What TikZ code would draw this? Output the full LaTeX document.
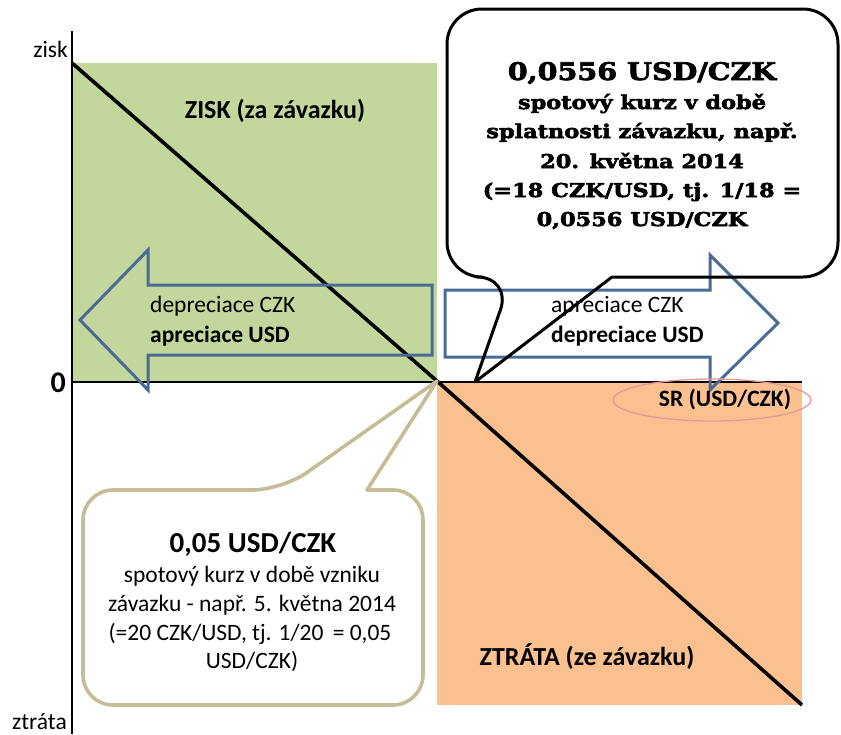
\documentclass[tikz,border=0pt]{standalone}
\usepackage{fontspec}
\setmainfont{Carlito}
\newfontfamily\slab[FakeStretch=1.18, FakeBold=3]{DejaVu Serif}
\usetikzlibrary{shapes.geometric}

\definecolor{gainfill}{HTML}{C3D69B}
\definecolor{lossfill}{HTML}{FAC090}
\definecolor{arrowblue}{HTML}{4A6A98}
\definecolor{tanline}{HTML}{C4BD97}
\definecolor{ringred}{HTML}{E39A9A}

\tikzset{
  txt/.style={inner sep=0pt, anchor=base, font=\fontsize{23.5}{28}\selectfont},
  txtw/.style={txt, anchor=base west},
  txtb/.style={txt, font=\fontsize{23.5}{28}\selectfont\bfseries},
  txtbw/.style={txtb, anchor=base west},
  arealabel/.style={inner sep=0pt, anchor=base, font=\fontsize{26}{30}\selectfont\bfseries},
  slabtitle/.style={inner sep=0pt, anchor=base, font=\slab\bfseries\fontsize{24.2}{28}\selectfont},
  slabline/.style={inner sep=0pt, anchor=base, font=\slab\bfseries\fontsize{19}{22}\selectfont},
  bigarrow/.style={draw=arrowblue, line width=3pt},
  axis/.style={line width=1.6pt, black},
  payoff/.style={line width=3.6pt, black},
}

\begin{document}
\begin{tikzpicture}[x=1pt, y=-1pt]
\useasboundingbox (0,0) rectangle (841,734);

% profit and loss areas
\fill[gainfill] (72,63) rectangle (437,381);
\fill[lossfill] (437,381) rectangle (802,705);

% axes
\coordinate (ytop) at (72,31);
\coordinate (ybot) at (72,734);
\coordinate (xleft) at (72,382);
\coordinate (xright) at (802,382);
\draw[axis] (ytop) -- (ybot);
\draw[axis] (xleft) -- (xright);

% payoff line of the liability
\coordinate (pstart) at (72,63);
\coordinate (spot) at (437,381);
\coordinate (pend) at (802,705);
\draw[payoff] (pstart) -- (spot) -- (pend);

% axis labels
\node[txt, anchor=base east] (zisk) at (68,57) {zisk};
\node[txt, anchor=base east] (ztrata) at (67,729) {ztráta};
\node[inner sep=0pt, anchor=base east, font=\fontsize{30}{34}\selectfont\bfseries] (zero) at (66,392) {0};

% area labels
\node[arealabel] (gain) at (275,118) {ZISK (za závazku)};
\node[arealabel] (loss) at (587,665) {ZTRÁTA (ze závazku)};

% callout for the spot rate at inception
\fill[white, draw=tanline, line width=3.6pt, line join=round]
  (367,490) [rounded corners=30pt] -- (423,490) -- (423,705) -- (83,705) -- (83,490) -- (282,490)
  [sharp corners] -- (spot) -- cycle;
\node[inner sep=0pt, anchor=base, font=\fontsize{29}{34}\selectfont\bfseries] (b1) at (253,552) {0,05 USD/CZK};
\node[txt] (b2) at (252,582) {spotový kurz v době vzniku};
\node[txt] (b3) at (252,611) {závazku - např. 5. května 2014};
\node[txt] (b4) at (250,640) {(=20 CZK/USD, tj. 1/20\, = 0,05};
\node[txt] (b5) at (252,668) {USD/CZK)};

% callout for the spot rate at maturity: background first
\coordinate (tip) at (475,382);
\fill[white]
  (612,277) [rounded corners=35pt] -- (838,277) -- (838,9) -- (447,9) -- (447,277) -- (512,277)
  [sharp corners] -- (tip) -- cycle;

% exchange rate movement arrows
\draw[bigarrow] (80,320) -- (148,250) -- (148,285) -- (432,285) -- (432,355) -- (148,355) -- (148,390) -- cycle;
\node[txtw] (l1) at (150,312) {depreciace CZK};
\node[txtbw] (l2) at (150,342) {apreciace USD};

\draw[bigarrow] (445,290) -- (710,290) -- (710,255) -- (778,323) -- (710,390) -- (710,357) -- (445,357) -- cycle;
\node[txtw] (r1) at (551,312) {apreciace CZK};
\node[txtbw] (r2) at (551,342) {depreciace USD};

% outline of the maturity callout
\draw[black, line width=3pt, line join=round]
  (612,277) [rounded corners=35pt] -- (838,277) -- (838,9) -- (447,9) -- (447,277) -- (512,277)
  [sharp corners] -- (tip) -- cycle;
\node[slabtitle] (t1) at (642,80) {0,0556 USD/CZK};
\node[slabline] (t2) at (642,109) {spotový kurz v době};
\node[slabline] (t3) at (642,138) {splatnosti závazku, např.};
\node[slabline] (t4) at (642,168) {20. května 2014};
\node[slabline] (t5) at (642,197) {(=18 CZK/USD, tj. 1/18 =};
\node[slabline] (t6) at (642,226) {0,0556 USD/CZK};

% horizontal axis label
\node[draw=ringred, line width=1.3pt, ellipse, minimum width=198pt, minimum height=42pt, inner sep=0pt] (ring) at (712,400) {};
\node[inner sep=0pt, anchor=base, font=\fontsize{23.5}{26}\selectfont\bfseries] (sr) at (725,406) {SR (USD/CZK)};
\end{tikzpicture}
\end{document}
